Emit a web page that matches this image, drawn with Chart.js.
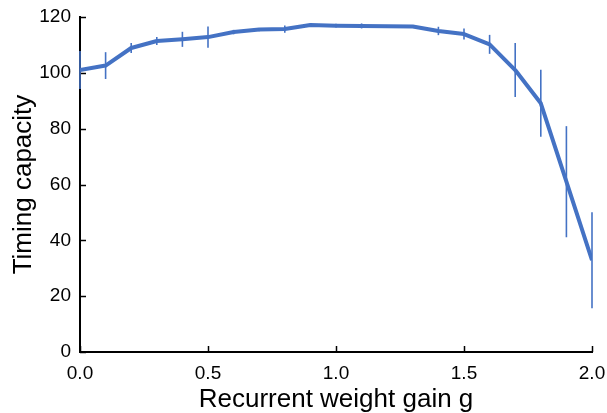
<!DOCTYPE html>
<html>
<head>
<meta charset="utf-8">
<script src="https://cdn.jsdelivr.net/npm/chart.js@4.4.1/dist/chart.umd.min.js"></script>
<style>
  html, body { margin: 0; padding: 0; background: #fff; }
</style>
</head>
<body>
<canvas id="myChart" width="607" height="413"></canvas>
<script>
// recurrent weight gain g
const gains = [0.0, 0.1, 0.2, 0.3, 0.4, 0.5, 0.6, 0.7, 0.8, 0.9, 1.0,
               1.1, 1.2, 1.3, 1.4, 1.5, 1.6, 1.7, 1.8, 1.9, 2.0]
// mean timing capacity at each gain
const capacity = [101.0, 102.6, 108.9, 111.4, 112.0, 112.8, 114.6, 115.5, 115.7, 117.1, 116.9,
                  116.8, 116.7, 116.6, 115.0, 113.9, 110.2, 101.0, 89.1, 61.0, 32.9]
// error bar half-heights
const capacityErr = [6.8, 4.8, 1.8, 1.4, 2.7, 3.8, 0.8, 0.6, 1.3, 0.5, 0.7,
                     0.9, 0.4, 0.4, 1.5, 2.0, 3.4, 9.7, 12.0, 19.9, 17.2]
const xTicks = [0.0, 0.5, 1.0, 1.5, 2.0]
const yTicks = [0, 20, 40, 60, 80, 100, 120]

const lineColor = '#4472C4'
const fontFamily = "'Liberation Sans', Arial, sans-serif"

const errorBars = {
    id: 'errorBars',
    afterDatasetsDraw(chart) {
        const {ctx, scales: {x, y}} = chart
        ctx.save()
        ctx.strokeStyle = lineColor
        ctx.lineWidth = 1.6
        gains.forEach((g, i) => {
            const px = x.getPixelForValue(g)
            ctx.beginPath()
            ctx.moveTo(px, y.getPixelForValue(capacity[i] - capacityErr[i]))
            ctx.lineTo(px, y.getPixelForValue(capacity[i] + capacityErr[i]))
            ctx.stroke()
        })
        ctx.restore()
    }
}

// tick marks point into the plot
const innerTicks = {
    id: 'innerTicks',
    beforeDatasetsDraw(chart) {
        const {ctx, chartArea, scales: {x, y}} = chart
        ctx.save()
        ctx.strokeStyle = '#000'
        ctx.lineWidth = 1.5
        xTicks.forEach(v => {
            const px = Math.round(x.getPixelForValue(v)) + 0.5
            ctx.beginPath()
            ctx.moveTo(px, chartArea.bottom)
            ctx.lineTo(px, chartArea.bottom - 6)
            ctx.stroke()
        })
        yTicks.forEach(v => {
            const py = Math.round(y.getPixelForValue(v)) + 0.5
            ctx.beginPath()
            ctx.moveTo(chartArea.left, py)
            ctx.lineTo(chartArea.left + 6, py)
            ctx.stroke()
        })
        ctx.restore()
    }
}

const ctxEL = document.getElementById('myChart').getContext('2d')
new Chart(ctxEL, {
    type: 'line',
    data: {
        datasets: [{
            label: 'Timing capacity',
            data: gains.map((g, i) => ({x: g, y: capacity[i]})),
            borderColor: lineColor,
            borderWidth: 4,
            borderJoinStyle: 'round',
            pointRadius: 0,
            tension: 0,
            fill: false
        }]
    },
    options: {
        responsive: false,
        animation: false,
        devicePixelRatio: 1,
        layout: {padding: {top: 17, right: 15, left: 0, bottom: 0}},
        plugins: {legend: {display: false}, tooltip: {enabled: false}},
        scales: {
            x: {
                type: 'linear',
                min: 0,
                max: 2,
                afterBuildTicks: scale => { scale.ticks = xTicks.map(v => ({value: v})) },
                afterFit: scale => {
                    scale.height = 61
                    scale.paddingLeft = 0
                    scale.paddingRight = 0
                },
                grid: {display: true, drawOnChartArea: false, drawTicks: false},
                border: {display: true, color: '#000', width: 2},
                ticks: {
                    color: '#000',
                    padding: 10,
                    maxRotation: 0,
                    font: {family: fontFamily, size: 19},
                    callback: v => v.toFixed(1)
                },
                title: {
                    display: true,
                    text: 'Recurrent weight gain g',
                    color: '#000',
                    padding: 0,
                    font: {family: fontFamily, size: 26, lineHeight: 1}
                }
            },
            y: {
                min: 0,
                max: 120,
                afterBuildTicks: scale => { scale.ticks = yTicks.map(v => ({value: v})) },
                afterFit: scale => {
                    scale.width = 80
                    scale.paddingTop = 0
                    scale.paddingBottom = 0
                },
                grid: {display: true, drawOnChartArea: false, drawTicks: false},
                border: {display: true, color: '#000', width: 2},
                ticks: {
                    color: '#000',
                    padding: 9,
                    font: {family: fontFamily, size: 19}
                },
                title: {
                    display: true,
                    text: 'Timing capacity',
                    color: '#000',
                    padding: {top: 11, bottom: 0},
                    font: {family: fontFamily, size: 26, lineHeight: 1}
                }
            }
        }
    },
    plugins: [innerTicks, errorBars]
})
</script>
</body>
</html>
